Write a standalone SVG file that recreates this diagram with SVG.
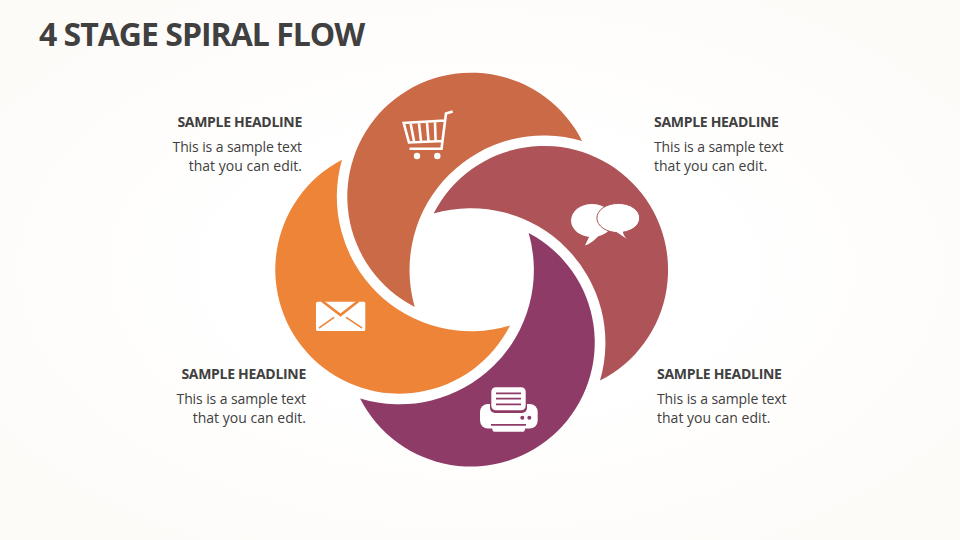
<svg xmlns="http://www.w3.org/2000/svg" width="960" height="540" viewBox="0 0 960 540">
<style>
text{font-family:"Open Sans","Noto Sans","Liberation Sans",sans-serif;fill:#404040}
.h{font-size:14px;font-weight:700;letter-spacing:-.3px}
.b{font-size:14px;letter-spacing:-.1px}
.c{font-size:14px;letter-spacing:.02px}
.e{text-anchor:end}
.ic{fill:none;stroke:#fff;stroke-width:2.6}
.w{fill:#fff}
</style>
<defs>
<radialGradient id="bg" cx="50%" cy="50%" r="62%">
<stop offset="0.4" stop-color="#ffffff"/>
<stop offset="1" stop-color="#fdfbf8"/>
</radialGradient>
</defs>
<rect width="960" height="540" fill="url(#bg)"/>
<text x="39" y="46" font-size="32" font-weight="700" letter-spacing="-1" id="title">4 STAGE SPIRAL FLOW</text>

<g id="node-rust">
<path fill="#cb6a46" d="M582.1 141A124 124 0 1 0 414.7 307A134.5 134.5 0 0 1 582.1 141Z"/>
<path class="ic" d="M452.7 111.5L446 113.5L441.5 148.8H409.5M445 120.5L403.7 123L409 142.5L442.5 141M410.7 124L414 141M419 123.5L421 141M427 123L428.5 141M435 122.5L435.6 141"/>
<circle class="w" cx="417" cy="156" r="3.2"/><circle class="w" cx="437.3" cy="156" r="3.2"/>
<text class="h e" x="302" y="127">SAMPLE HEADLINE</text>
<text class="b e" x="302" y="152">This is a sample text</text>
<text class="c e" x="302" y="171">that you can edit.</text>
</g>

<g id="node-maroon">
<path fill="#ae5358" d="M600 380.6A124 124 0 1 0 433.6 213.6A134.5 134.5 0 0 1 600 380.6Z"/>
<ellipse class="w" cx="592" cy="220.5" rx="21" ry="16.5"/>
<path class="w" d="M590 235L585 245.5Q593 243 600 234Z"/>
<ellipse cx="618.3" cy="218" rx="21.4" ry="14.6" class="w" stroke="#ae5358" stroke-width="1"/>
<path class="w" d="M615 231L627 239Q622 234 623 230Z"/>
<text class="h" x="654" y="127">SAMPLE HEADLINE</text>
<text class="b" x="654" y="152">This is a sample text</text>
<text class="c" x="654" y="171">that you can edit.</text>
</g>

<g id="node-purple">
<path fill="#8f3b68" d="M360.1 398.5A124 124 0 1 0 528.7 232.9A134.5 134.5 0 0 1 360.1 398.5Z"/>
<rect class="w" x="480" y="404" width="57.7" height="24.5" rx="8"/>
<rect x="490" y="386" width="37" height="27" rx="5" fill="#8f3b68"/>
<rect class="w" x="491.3" y="387.3" width="34.4" height="23" rx="4.5"/>
<path stroke="#8f3b68" stroke-width="1.7" fill="none" d="M496 393.3H521M496 398.7H521M496 404.3H521M491 424.8H526"/>
<rect class="w" x="492.3" y="426" width="32.7" height="5.7" rx="2.8"/>
<circle fill="#8f3b68" cx="522.3" cy="417.7" r="2"/><circle fill="#8f3b68" cx="529.3" cy="417.7" r="2"/>
<text class="h" x="657" y="379">SAMPLE HEADLINE</text>
<text class="b" x="657" y="404">This is a sample text</text>
<text class="c" x="657" y="423">that you can edit.</text>
</g>

<g id="node-orange">
<path fill="#ed8438" d="M342 159.7A124 124 0 1 0 510 325.5A134.5 134.5 0 0 1 342 159.7Z"/>
<rect class="w" x="316" y="301.7" width="49.3" height="29.3" rx="1.5"/>
<path fill="none" stroke="#ed8438" stroke-width="2.6" d="M322 301L340.5 315L358.5 301"/>
<path fill="none" stroke="#ed8438" stroke-width="1.6" stroke-linecap="round" d="M319.5 327.7L333.7 317.7M346.5 317.7L361.5 327.7"/>
<text class="h e" x="306" y="379">SAMPLE HEADLINE</text>
<text class="b e" x="306" y="404">This is a sample text</text>
<text class="c e" x="306" y="423">that you can edit.</text>
</g>
<g id="connectors"></g>
</svg>
